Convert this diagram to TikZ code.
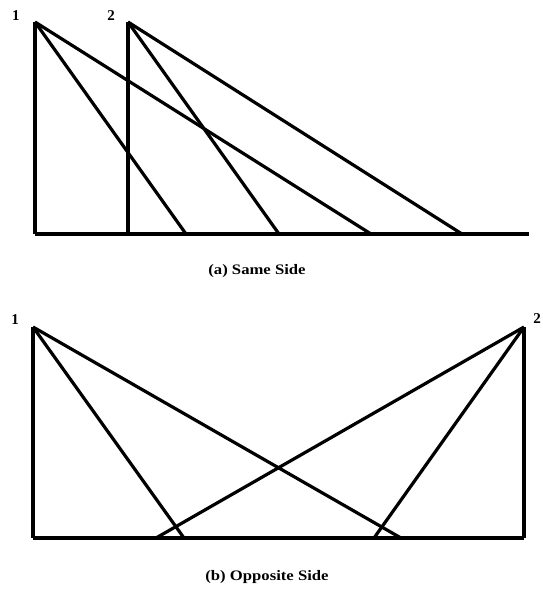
\documentclass[tikz,border=0pt]{standalone}
\usepackage{fontspec}
\setmainfont{Liberation Serif}
\begin{document}
\begin{tikzpicture}[x=1pt,y=-1pt,
  edge/.style={line width=3.2pt,line cap=butt,line join=miter},
  lbl/.style={font=\bfseries\fontsize{15}{17}\selectfont,inner sep=0pt},
  captxt/.style={font=\bfseries\fontsize{14.5}{16}\selectfont,inner sep=0pt}]
\useasboundingbox (0,0) rectangle (542,593);
% ---- (a) Same Side ----
\coordinate (A1) at (35,22);
\coordinate (A2) at (128,22);
\coordinate (A1b) at (35,234);
\coordinate (A2b) at (128,234);
\coordinate (Aend) at (529,234);
\coordinate (p1) at (186,234);
\coordinate (p2) at (279,234);
\coordinate (p3) at (371,234);
\coordinate (p4) at (462,234);
\node[lbl] (l1) at (16,16) {1};
\node[lbl] (l2) at (111,16) {2};
\draw[edge] (A1) -- (A1b);
\draw[edge] (A2) -- (A2b);
\draw[edge] (A1b) -- (Aend);
\draw[edge] (A1) -- (p1);
\draw[edge] (A1) -- (p3);
\draw[edge] (A2) -- (p2);
\draw[edge] (A2) -- (p4);
\node[captxt] (ca) at (257,271) {\scalebox{1.15}[1]{(a) Same Side}};
% ---- (b) Opposite Side ----
\coordinate (B1) at (33,327);
\coordinate (B2) at (524,327);
\coordinate (B1b) at (33,538);
\coordinate (B2b) at (524,538);
\coordinate (q1) at (156,538);
\coordinate (q2) at (184,538);
\coordinate (q3) at (374,538);
\coordinate (q4) at (401,538);
\node[lbl] (m1) at (15,320) {1};
\node[lbl] (m2) at (537,319) {2};
\draw[edge] (B1) -- (B1b);
\draw[edge] (B2) -- (B2b);
\draw[edge] (B1b) -- (B2b);
\draw[edge] (B1) -- (q2);
\draw[edge] (B1) -- (q4);
\draw[edge] (B2) -- (q1);
\draw[edge] (B2) -- (q3);
\node[captxt] (cb) at (267,577) {\scalebox{1.15}[1]{(b) Opposite Side}};
\end{tikzpicture}
\end{document}
